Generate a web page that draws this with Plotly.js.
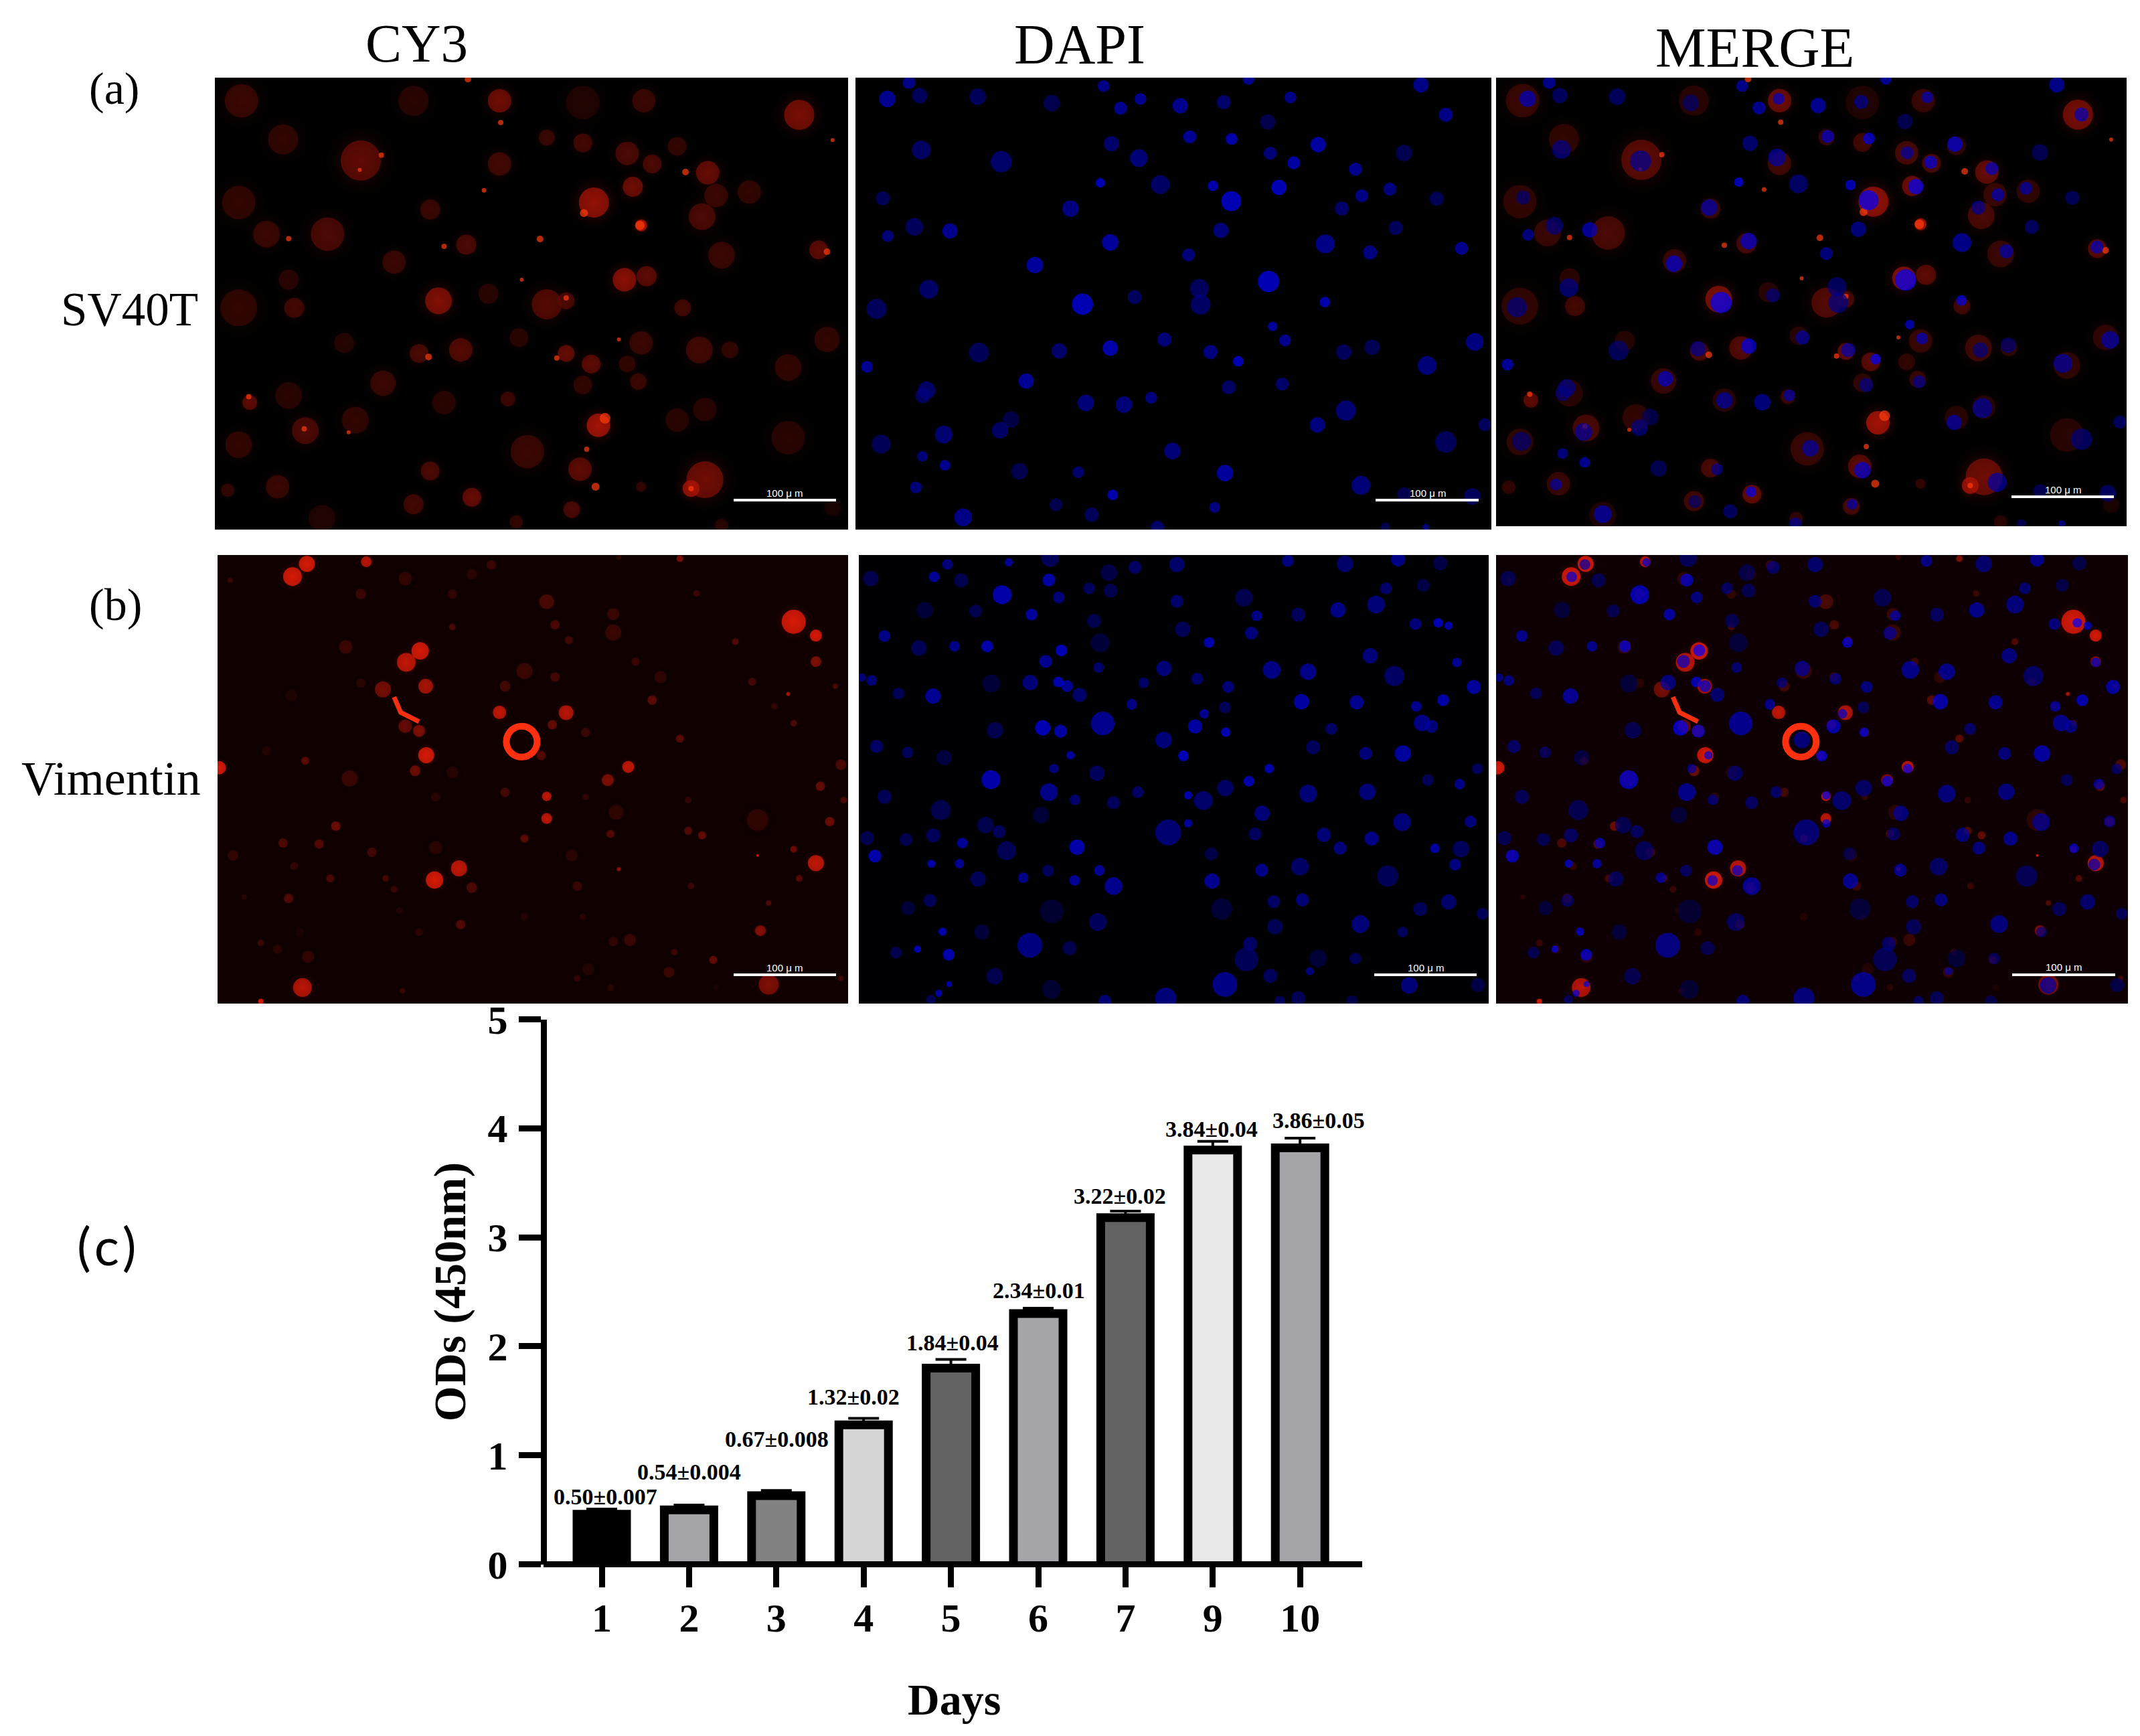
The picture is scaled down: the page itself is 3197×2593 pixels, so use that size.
<!DOCTYPE html>
<html><head><meta charset="utf-8">
<script src="https://cdn.plot.ly/plotly-3.0.1.min.js"></script>
<style>html,body{margin:0;padding:0;background:#fff}</style></head>
<body><div id="chart" style="width:3197px;height:2593px"></div>
<script>
// ---- bar chart data ----
const days = ['1','2','3','4','5','6','7','9','10'];
const ods = [0.50,0.54,0.67,1.32,1.84,2.34,3.22,3.84,3.86];
const errs = [0.007,0.004,0.008,0.02,0.04,0.01,0.02,0.04,0.05];
const valueLabels = ['0.50±0.007','0.54±0.004','0.67±0.008','1.32±0.02','1.84±0.04','2.34±0.01','3.22±0.02','3.84±0.04','3.86±0.05'];
const barFills = ['#000000','#a5a4a9','#828282','#d6d6d6','#636363','#a5a4a9','#636363','#e8e8e8','#a5a4a9'];
const labelDx = [5,0,1,-15,2,1,-8,-2,28];
const labelUp = [20,50,78,35,32,28,26,25,35];

// ---- micrograph features: [x, y, diameter px, intensity] ----
const nucleiA = [[142,52,22,190],[90,107,28,200],[168,96,26,130],[308,100,28,130],[487,121,28,110],[612,64,20,190],[653,138,22,200],[701,107,20,200],[797,130,26,200],[902,118,24,150],[962,40,20,200],[1063,102,20,190],[1378,60,26,190],[1438,160,24,190],[1008,184,26,110],[172,278,32,140],[365,317,36,150],[631,257,26,150],[697,305,30,170],[820,234,22,210],[921,241,20,240],[1130,260,26,230],[1014,289,22,170],[1071,321,22,230],[1337,288,28,110],[1220,342,22,200],[604,388,16,255],[749,394,32,140],[876,398,18,240],[920,449,34,255],[1035,403,26,255],[79,440,24,120],[532,474,28,180],[1187,474,24,150],[1235,431,22,190],[1303,409,22,180],[1416,441,24,120],[155,535,30,130],[241,549,26,200],[91,566,20,170],[895,547,26,170],[1317,539,24,130],[628,587,28,220],[1147,592,32,190],[1255,621,24,180],[1476,607,22,200],[817,629,22,170],[446,663,28,220],[1010,718,36,255],[190,744,32,140],[843,741,32,130],[561,794,36,255],[687,770,24,130],[846,795,34,140],[1146,787,18,240],[64,810,34,130],[1020,868,16,220],[1050,915,20,200],[759,912,24,170],[1508,920,30,180],[311,956,34,120],[505,950,26,150],[628,941,26,240],[870,954,24,180],[1192,954,26,130],[1260,938,26,120],[937,985,18,255],[41,1003,20,210],[1393,999,32,170],[425,1051,26,210],[914,1072,24,140],[1043,1061,22,150],[185,1082,30,140],[176,1100,26,130],[569,1124,28,170],[661,1130,28,170],[727,1107,20,180],[1197,1150,34,160],[1128,1198,26,180],[388,1180,28,100],[362,1216,28,140],[226,1230,30,160],[1532,1197,22,130],[1438,1255,36,130],[75,1262,32,120],[778,1285,28,170],[175,1303,18,170],[229,1333,18,200],[409,1353,28,110],[551,1356,20,150],[905,1359,28,220],[1233,1400,32,170],[159,1407,20,170],[634,1432,18,240],[497,1465,22,110],[583,1498,24,130],[880,1474,18,180],[273,1507,30,190],[1502,1437,28,130],[1338,1430,24,110],[742,1540,22,150],[1292,1540,16,110],[1390,1540,12,170]];
const nucleiB = [[50,100,26,110],[235,52,18,170],[383,45,14,210],[483,30,30,120],[625,80,28,100],[688,62,22,140],[789,52,26,150],[1057,40,20,180],[1195,50,28,150],[1323,35,24,190],[1425,48,24,100],[203,94,18,210],[268,106,24,110],[480,105,22,230],[577,133,20,130],[629,141,24,110],[1384,123,22,100],[1294,133,20,150],[367,155,32,240],[504,164,20,170],[789,177,22,150],[951,165,30,110],[180,207,28,80],[303,210,22,110],[438,222,20,220],[1178,207,26,190],[1270,188,30,170],[1082,223,24,130],[982,226,18,190],[589,244,24,110],[1365,254,20,170],[1420,250,16,255],[1445,260,14,230],[803,272,26,120],[969,285,22,170],[83,295,20,190],[867,317,18,240],[604,318,32,80],[166,336,26,120],[252,330,18,190],[331,330,20,240],[510,344,20,255],[1256,362,26,170],[472,381,22,200],[1465,385,16,210],[600,402,18,150],[758,405,26,170],[1018,410,30,190],[1106,416,28,190],[1314,431,34,140],[28,436,14,170],[52,446,18,170],[341,456,30,80],[435,453,26,170],[503,451,18,240],[524,465,20,210],[838,440,20,150],[709,454,18,140],[913,468,20,170],[1506,468,24,220],[117,490,20,120],[200,499,26,210],[554,495,24,150],[680,527,18,190],[1090,518,26,230],[1223,520,24,200],[1432,513,20,240],[905,537,20,120],[1367,534,18,200],[855,559,16,200],[610,592,40,200],[465,607,26,255],[508,618,22,230],[833,602,24,230],[1381,590,28,190],[1404,602,22,170],[1162,610,20,140],[350,615,28,110],[907,622,16,250],[757,648,28,170],[1118,673,24,130],[64,670,22,140],[139,690,20,120],[227,708,26,90],[532,700,14,220],[805,702,18,255],[1245,694,22,170],[1335,694,28,220],[492,745,16,170],[596,761,26,130],[1012,745,16,240],[1515,746,18,130],[340,783,32,240],[963,788,18,240],[1395,784,20,120],[480,825,30,190],[1472,798,18,190],[906,811,28,140],[1106,830,30,170],[1249,824,28,170],[695,825,20,140],[543,851,18,150],[83,841,24,120],[816,836,14,240],[853,854,32,150],[636,861,22,130],[219,886,34,110],[995,897,26,170],[461,903,28,80],[1333,927,30,170],[1498,925,20,170],[816,931,14,220],[768,962,44,160],[327,937,28,110],[360,959,22,130],[201,972,24,130],[978,967,22,130],[41,981,24,110],[135,986,22,110],[1144,970,24,170],[1259,983,24,190],[271,998,18,210],[548,1012,26,240],[378,1024,32,120],[1183,1015,22,170],[1412,1016,16,230],[1475,1018,28,130],[60,1042,22,240],[872,1035,22,100],[196,1068,14,230],[264,1068,16,210],[1086,1078,30,140],[994,1090,22,190],[1461,1071,20,180],[478,1092,20,130],[602,1091,18,210],[1298,1110,36,120],[418,1116,18,190],[309,1120,26,120],[542,1125,18,210],[874,1127,26,200],[636,1144,30,200],[193,1193,22,120],[1092,1191,22,170],[1023,1197,22,140],[1445,1198,26,150],[140,1219,24,80],[487,1230,40,70],[897,1222,36,80],[1377,1222,24,120],[1527,1238,20,120],[598,1266,30,130],[1232,1273,30,170],[1026,1282,26,120],[223,1299,14,240],[318,1300,26,80],[1334,1300,18,130],[434,1345,42,180],[530,1355,24,110],[966,1340,24,140],[111,1370,20,110],[163,1358,12,255],[238,1377,20,240],[957,1393,40,120],[1130,1390,30,80],[1220,1390,20,120],[1110,1433,14,170],[349,1450,28,110],[1015,1449,24,130],[905,1478,42,190],[239,1477,10,230],[1350,1481,28,170],[486,1495,32,70],[1516,1480,24,100],[214,1508,12,230],[195,1530,16,120],[762,1525,36,170],[615,1535,22,160],[1082,1525,24,120],[1038,1535,18,130],[1212,1535,20,100]];
const cellsA = [[435,290,50,70],[510,400,45,60],[650,460,60,110],[900,290,35,130],[745,290,45,50],[1050,295,50,40],[1160,290,35,70],[1440,330,45,140],[1130,440,35,90],[1220,420,28,60],[1050,410,28,80],[985,395,24,70],[900,470,35,80],[1175,470,28,90],[1275,495,35,120],[1140,535,30,130],[1070,580,45,170],[1290,560,35,70],[1350,550,35,60],[430,580,50,60],[1265,620,40,90],[1155,645,18,200],[480,670,40,70],[590,670,50,90],[775,600,30,70],[840,700,30,90],[710,750,35,70],[1300,730,40,70],[1475,715,28,110],[1125,800,35,160],[1165,790,30,110],[985,870,45,100],[1020,860,25,90],[790,860,40,150],[880,840,30,50],[1230,880,25,80],[430,880,55,60],[530,880,30,80],[520,800,30,50],[1260,1000,40,80],[1315,1000,25,60],[1155,980,35,70],[935,965,28,50],[830,1000,35,100],[755,1010,28,90],[620,980,30,45],[1020,1010,25,120],[1065,1040,28,110],[1130,1040,25,60],[1420,1050,40,60],[1490,970,38,60],[690,1095,38,70],[520,1130,40,50],[800,1150,35,50],[915,1140,22,70],[1050,1100,28,60],[1150,1090,25,70],[450,1150,22,110],[550,1230,40,90],[640,1200,40,60],[1078,1215,35,190],[1220,1200,35,50],[1270,1170,35,50],[1420,1250,50,50],[950,1290,50,70],[430,1270,40,60],[500,1390,35,70],[1045,1340,35,110],[775,1345,28,90],[1270,1370,55,130],[1245,1395,25,180],[850,1420,28,120],[745,1440,30,80],[1030,1455,25,90],[580,1480,40,40],[410,1400,20,60],[1155,1390,15,60],[1300,1500,20,50],[1500,1450,25,30],[930,1490,20,60]];
const spotsA = [[843,228,10,255],[902,352,8,255],[687,445,8,255],[648,487,6,255],[1235,493,10,255],[872,545,7,255],[1052,610,12,255],[1153,645,14,255],[973,684,10,255],[520,683,8,255],[800,705,8,255],[1490,720,10,255],[1500,402,6,255],[940,800,6,255],[1020,852,8,255],[772,1020,10,255],[1003,1023,8,255],[1115,970,6,255],[548,1225,8,255],[628,1235,6,255],[448,1133,8,255],[1057,1283,8,255],[1073,1390,12,255],[1245,1395,8,255],[1090,1195,16,255]];
const cellsB = [[527,133,28,255],[553,92,24,255],[660,85,16,220],[757,375,26,255],[732,412,28,230],[767,490,22,200],[690,500,24,140],[730,620,20,120],[755,635,18,150],[1430,280,36,255],[1470,325,18,255],[1470,410,16,150],[900,575,20,230],[1020,576,22,220],[995,615,14,120],[768,714,24,255],[1132,752,18,230],[1095,795,18,150],[985,848,14,230],[985,920,16,230],[748,765,16,130],[975,715,14,100],[395,755,20,255],[827,1082,24,230],[783,1120,26,255],[1470,1065,24,230],[545,1470,28,220],[1370,1285,16,160],[1385,1460,30,150],[1115,1085,6,180],[1365,1040,4,255],[1478,815,14,120],[1495,930,14,130],[1240,960,12,100],[1265,975,12,120],[1430,1020,10,130],[1440,1115,10,100],[510,1000,14,90],[575,1003,14,100],[605,945,14,130],[1100,970,12,100],[945,985,12,110],[850,1145,16,90],[520,1180,14,100],[1040,1140,14,70],[1135,1315,18,70],[1105,1320,14,60],[1285,1380,12,120],[1205,1420,16,70],[830,1265,14,100],[555,1370,18,60],[725,1480,8,70],[470,1515,8,255],[730,140,20,60],[885,95,14,70],[850,125,16,50],[650,190,16,70],[815,190,14,60],[985,215,22,90],[1105,255,18,70],[1105,315,24,70],[1000,290,14,90],[1025,340,12,80],[945,440,24,70],[1000,460,14,80],[910,490,16,80],[623,362,20,70],[815,297,10,90],[1325,345,10,100],[1145,410,12,70],[1190,460,18,55],[1175,535,14,110],[1355,475,12,80],[1505,490,8,90],[1255,188,10,70],[1225,75,10,150],[1115,70,8,60],[1420,515,6,200],[1395,555,10,60],[1430,610,10,90],[1225,660,12,110],[1055,640,14,70],[550,732,12,110],[480,700,14,40],[630,790,24,70],[415,145,8,70],[650,480,14,50],[525,520,18,35],[910,835,14,80],[1055,850,10,60],[785,850,14,50],[815,770,18,45],[1110,900,22,55],[1365,925,32,55],[1515,745,16,90],[1520,860,10,90],[1240,860,10,60],[420,1040,16,60],[530,1075,12,60],[670,1030,14,80],[785,1015,20,50],[695,1115,10,80],[595,1115,12,90],[710,1150,10,70],[1030,1040,18,50],[1245,1140,10,70],[1385,1195,8,100],[945,1240,12,40],[1050,1240,10,50],[755,1290,12,50],[720,1220,10,40],[500,1345,14,50],[470,1325,10,70],[1040,1440,10,60],[1060,1410,18,40],[1100,1470,10,50],[440,1175,8,50],[1290,1470,10,30],[1515,1440,8,80],[540,1290,14,30],[1215,1355,10,70]];
const ringB = [[940,670,46,255]];
const strandBx = [710,722,755];
const strandBy = [525,575,605];

// ---- page geometry (px) ----
const W = 3197, H = 2593;
const px = v => v / W, py = v => 1 - v / H;
const panels = [
  {x:[321,1267], y:[116,791], layers:['cellsA'], bg:'#000000', bar:[1096,1249,747], txt:[1172,736]},
  {x:[1278,2228], y:[116,791], layers:['nucA'], bg:'#000000', bar:[2055,2209,747], txt:[2133,736]},
  {x:[2235,3177], y:[116,786], layers:['cellsA','nucA'], bg:'#000000', bar:[3005,3158,742], txt:[3082,731]},
  {x:[325,1267], y:[829,1499], layers:['cellsB'], bg:'#100000', bar:[1096,1249,1456], txt:[1172,1445]},
  {x:[1283,2224], y:[829,1499], layers:['nucB'], bg:'#000003', bar:[2053,2206,1456], txt:[2130,1445]},
  {x:[2235,3179], y:[829,1499], layers:['cellsB','nucB'], bg:'#0e0002', bar:[3006,3160,1456], txt:[3083,1444]}
];
const ranges = {
  red_A:{x:[387,1528], y:[1512,224]}, nuc_A:{x:[13,1548], y:[1548,36]},
  red_B:{x:[392,1528], y:[1522,63]},  nuc_B:{x:[21,1542], y:[1543,20]}
};

const redCol = b => `rgb(${Math.round(b)},${Math.round(b*0.12)},${Math.round(b*0.04)})`;
const baseTrace = (list, k) => ({type:'scatter', mode:'markers', xaxis:'x'+k, yaxis:'y'+k, hoverinfo:'skip', showlegend:false,
  x:list.map(r=>r[0]), y:list.map(r=>r[1])});
function softHalo(list, k, scale, dim) {
  return Object.assign(baseTrace(list,k), {marker:{size:list.map(r=>r[2]*scale), color:'rgba(0,0,0,0)', line:{width:0},
    gradient:{type:'radial', color:list.map(r=>redCol(r[3]*dim))}}});
}
function solid(list, k, colorFn, scale) {
  return Object.assign(baseTrace(list,k), {marker:{size:list.map(r=>r[2]*scale), color:list.map(r=>colorFn(r[3])), line:{width:0}}});
}
const traces = [];
const layoutExtras = {};
const shapes = [];
const annotations = [];

panels.forEach(p=>{
  shapes.push({type:'rect', xref:'paper', yref:'paper', layer:'below', line:{width:0}, fillcolor:p.bg,
    x0:px(p.x[0]), x1:px(p.x[1]), y0:py(p.y[1]), y1:py(p.y[0])});
});
function addAxes(k, rng, p) {
  layoutExtras['xaxis'+k] = {domain:[px(p.x[0]),px(p.x[1])], range:rng.x, visible:false, anchor:'y'+k, fixedrange:true};
  layoutExtras['yaxis'+k] = {domain:[py(p.y[1]),py(p.y[0])], range:rng.y, visible:false, anchor:'x'+k, fixedrange:true};
}
let axisN = 3;
panels.forEach(p=>{
  p.layers.forEach(layer=>{
    const k = String(axisN++);
    if (layer==='cellsA') {
      addAxes(k, ranges.red_A, p);
      traces.push(softHalo(cellsA, k, 2.0, 0.8));
      traces.push(solid(cellsA, k, redCol, 1.0));
      traces.push(solid(spotsA, k, ()=>'#ff3c0c', 1));
    } else if (layer==='cellsB') {
      addAxes(k, ranges.red_B, p);
      traces.push(softHalo(cellsB, k, 1.8, 0.7));
      traces.push(solid(cellsB, k, redCol, 1.0));
      traces.push({type:'scatter', mode:'lines', xaxis:'x'+k, yaxis:'y'+k, x:strandBx, y:strandBy, hoverinfo:'skip', showlegend:false,
        line:{color:'#f53010', width:7}});
      traces.push({type:'scatter', mode:'markers', xaxis:'x'+k, yaxis:'y'+k, hoverinfo:'skip', showlegend:false,
        x:ringB.map(r=>r[0]), y:ringB.map(r=>r[1]),
        marker:{symbol:'circle-open', size:ringB.map(r=>r[2]), opacity:1, color:'#ff3010', line:{width:10, color:'#ff3010'}}});
    } else {
      const list = layer==='nucA' ? nucleiA : nucleiB;
      addAxes(k, layer==='nucA' ? ranges.nuc_A : ranges.nuc_B, p);
      traces.push(solid(list, k, b=>`rgb(0,0,${b})`, 0.88));
    }
  });
  shapes.push({type:'line', xref:'paper', yref:'paper', x0:px(p.bar[0]), x1:px(p.bar[1]), y0:py(p.bar[2]), y1:py(p.bar[2]), line:{color:'#ffffff', width:4}});
  annotations.push({xref:'paper', yref:'paper', x:px(p.txt[0]), y:py(p.txt[1]), text:'100 μ m', showarrow:false,
    xanchor:'center', yanchor:'middle', font:{family:'Liberation Sans', size:15, color:'#ffffff'}});
});

// ---- bar chart ----
const STROKE = 13, PLOT_L = 816.5, PLOT_R = 2035, PLOT_T = 1522.5, PLOT_B = 2336.6;
const unitPx = (PLOT_B - PLOT_T) / 5;
const strokeShift = (STROKE / 2) / unitPx;
const catStep = 130.4, firstCat = 899;
traces.push({type:'scatter', mode:'markers', x:days, y:ods, xaxis:'x', yaxis:'y', hoverinfo:'skip', showlegend:false,
  marker:{size:2, opacity:0},
  error_y:{type:'data', array:errs, visible:true, color:'#000000', thickness:4, width:23}});
traces.push({type:'bar', x:days, y:ods, xaxis:'x', yaxis:'y2', width:days.map(()=> (87-STROKE)/catStep), showlegend:false,
  marker:{color:barFills, line:{color:'#000000', width:STROKE}}});

const serif = 'Liberation Serif, Times New Roman, serif';
const pageText = [
  ['CY3',622,65,81],['DAPI',1613,67,84],['MERGE',2622,71,85],
  ['(a)',170,132,68],['SV40T',193,462,71],['(b)',172,903,68],['Vimentin',166,1163,72]
];
pageText.forEach(t=>annotations.push({xref:'paper', yref:'paper', x:px(t[1]), y:py(t[2]), text:t[0], showarrow:false,
  xanchor:'center', yanchor:'middle', font:{family:serif, size:t[3], color:'#000000'}}));
annotations.push({xref:'paper', yref:'paper', x:px(159), y:py(1860), text:'(\u200ac\u200a)', showarrow:false, xanchor:'center', yanchor:'middle',
  font:{family:'Lato, Noto Sans', size:78, color:'#000000'}});
days.forEach((d,i)=>annotations.push({xref:'x', yref:'y', x:i, y:ods[i], text:valueLabels[i], showarrow:false,
  xanchor:'center', yanchor:'middle', xshift:labelDx[i], yshift:labelUp[i],
  font:{family:serif, size:34, color:'#000000', weight:700}}));

shapes.push({type:'line', xref:'paper', yref:'paper', x0:px(PLOT_L-4.5), x1:px(PLOT_R), y0:py(PLOT_B), y1:py(PLOT_B), line:{color:'#000000', width:9}});

const layout = Object.assign({
  width:W, height:H, margin:{l:0,r:0,t:0,b:0}, paper_bgcolor:'#ffffff', plot_bgcolor:'rgba(0,0,0,0)',
  showlegend:false, shapes, annotations,
  xaxis:{domain:[px(PLOT_L),px(PLOT_R)], type:'category', categoryorder:'array', categoryarray:days,
    range:[(PLOT_L-firstCat)/catStep,(PLOT_R-firstCat)/catStep], anchor:'y', showgrid:false, zeroline:false, showline:false,
    ticks:'outside', ticklen:33, tickwidth:9, tickcolor:'#000000', ticklabelstandoff:-6,
    tickfont:{family:serif, size:60, color:'#000000', weight:700},
    title:{text:'Days', standoff:66, font:{family:serif, size:66, color:'#000000', weight:700}}},
  yaxis:{domain:[py(PLOT_B),py(PLOT_T)], range:[0,5], tickvals:[0,1,2,3,4,5], anchor:'x', showgrid:false, zeroline:false,
    showline:true, linewidth:9, linecolor:'#000000', ticks:'outside', ticklen:33, tickwidth:9, tickcolor:'#000000',
    ticklabelstandoff:4, tickfont:{family:serif, size:60, color:'#000000', weight:700},
    title:{text:'ODs (450nm)', standoff:14, font:{family:serif, size:68, color:'#000000', weight:700}}},
  yaxis2:{domain:[py(PLOT_B),py(PLOT_T)], range:[strokeShift,5+strokeShift], overlaying:'y', anchor:'x', visible:false}
}, layoutExtras);

Plotly.newPlot('chart', traces, layout, {staticPlot:true, displayModeBar:false});
</script></body></html>
